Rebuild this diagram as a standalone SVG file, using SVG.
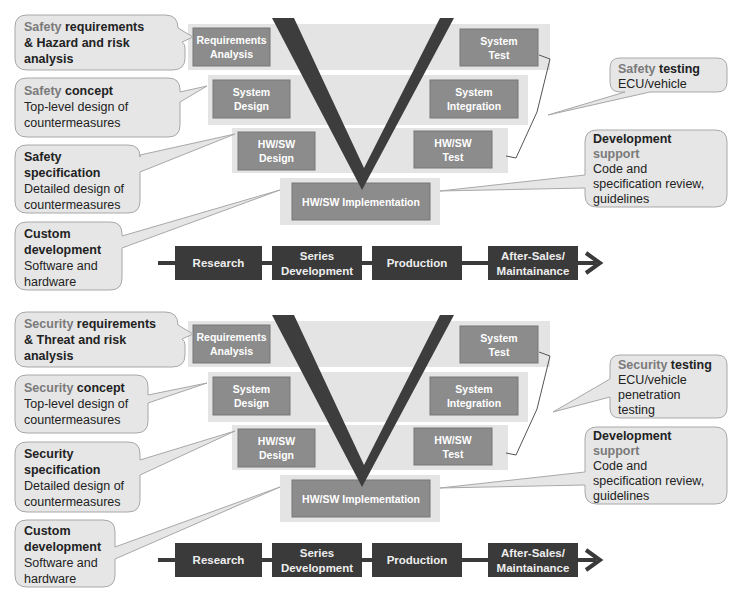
<svg xmlns="http://www.w3.org/2000/svg" width="744" height="600" viewBox="0 0 744 600">
<defs>
<style>
.band{fill:#e4e4e4}
.box{fill:#8c8c8c;stroke:#777;stroke-width:1}
.bt{font-family:"Liberation Sans",Arial,sans-serif;font-size:10.5px;font-weight:bold;fill:#fff;text-anchor:middle}
.call{fill:#e6e6e6;stroke:#a8a8a8;stroke-width:1}
.ct{font-family:"Liberation Sans",Arial,sans-serif;font-size:12.5px;fill:#222}
.b{font-weight:bold}
.g{fill:#7a7a7a;font-weight:bold}
.tl{fill:#3a3a3a}
.tt{font-family:"Liberation Sans",Arial,sans-serif;font-size:11.5px;font-weight:bold;fill:#eee;text-anchor:middle}
.v{fill:#3d3d3d}
.br{fill:none;stroke:#555;stroke-width:1}
</style>
</defs>
<rect width="744" height="600" fill="#fff"/>

<g id="top">
<g id="bands1">
<rect class="band" x="188" y="24" width="362" height="46"/>
<rect class="band" x="208" y="75" width="320" height="50"/>
<rect class="band" x="232" y="128" width="276" height="45"/>
<rect class="band" x="280" y="178" width="160" height="47"/>
</g>
<g id="req1"><rect class="box" x="193" y="28" width="77" height="38"/><text class="bt" x="231.5" y="44">Requirements</text><text class="bt" x="231.5" y="58">Analysis</text></g>
<g id="sysd1"><rect class="box" x="213" y="80" width="77" height="38"/><text class="bt" x="251.5" y="96">System</text><text class="bt" x="251.5" y="110">Design</text></g>
<g id="hwd1"><rect class="box" x="238" y="132" width="77" height="38"/><text class="bt" x="276.5" y="148">HW/SW</text><text class="bt" x="276.5" y="162">Design</text></g>
<g id="impl1"><rect class="box" x="292" y="183" width="138" height="37"/><text class="bt" x="361" y="206">HW/SW Implementation</text></g>
<g id="hwt1"><rect class="box" x="414" y="131" width="78" height="37"/><text class="bt" x="453" y="147">HW/SW</text><text class="bt" x="453" y="161">Test</text></g>
<g id="sysi1"><rect class="box" x="430" y="80" width="88" height="38"/><text class="bt" x="474" y="96">System</text><text class="bt" x="474" y="110">Integration</text></g>
<g id="syst1"><rect class="box" x="460" y="29" width="78" height="37"/><text class="bt" x="499" y="45">System</text><text class="bt" x="499" y="59">Test</text></g>
<polygon class="v" points="272,18 294,18 364,168 440,18 454,18 362,190"/>

<g id="c1a"><path class="call" d="M27,15 H165 Q178,15 178,28 V28 L193,37 L182,42 Q185,44 185,48 V58 Q185,70 172,70 H27 Q15,70 15,58 V27 Q15,15 27,15 Z"/>
<text class="ct" x="24" y="31"><tspan class="g">Safety</tspan><tspan class="b"> requirements</tspan></text>
<text class="ct b" x="24" y="47">&amp; Hazard and risk</text><text class="ct b" x="24" y="63">analysis</text></g>
<g id="c1b"><path class="call" d="M27,78 H168 Q180,78 180,90 V92 L207,86 L180,102 V125 Q180,137 168,137 H27 Q15,137 15,125 V90 Q15,78 27,78 Z"/>
<text class="ct" x="24" y="95"><tspan class="g">Safety</tspan><tspan class="b"> concept</tspan></text>
<text class="ct" x="24" y="111">Top-level design of</text><text class="ct" x="24" y="127">countermeasures</text></g>
<g id="c1c"><path class="call" d="M27,145 H128 Q140,145 140,157 V155 L235,134 L140,172 V201 Q140,213 128,213 H27 Q15,213 15,201 V157 Q15,145 27,145 Z"/>
<text class="ct" x="24" y="161" font-weight="bold" fill="#7a7a7a">Safety</text>
<text class="ct b" x="24" y="177">specification</text>
<text class="ct" x="24" y="193">Detailed design of</text><text class="ct" x="24" y="209">countermeasures</text></g>
<g id="c1d"><path class="call" d="M27,222 H110 Q122,222 122,234 V236 L280,190 L122,248 V278 Q122,290 110,290 H27 Q15,290 15,278 V234 Q15,222 27,222 Z"/>
<text class="ct b" x="24" y="238">Custom</text><text class="ct b" x="24" y="254">development</text>
<text class="ct" x="24" y="270">Software and</text><text class="ct" x="24" y="286">hardware</text></g>
<g id="c1e"><path class="call" d="M620,58 H717 Q727,58 727,68 V82 Q727,92 717,92 H650 L548,115 L625,92 H620 Q610,92 610,82 V68 Q610,58 620,58 Z"/>
<text class="ct" x="618" y="73"><tspan class="g">Safety</tspan><tspan class="b"> testing</tspan></text>
<text class="ct" x="618" y="88">ECU/vehicle</text></g>
<g id="c1f"><path class="call" d="M597,130 H715 Q727,130 727,142 V195 Q727,207 715,207 H597 Q585,207 585,195 V188 L440,191 L585,175 V142 Q585,130 597,130 Z"/>
<text class="ct b" x="593" y="143">Development</text><text class="ct g" x="593" y="158">support</text>
<text class="ct" x="593" y="173">Code and</text><text class="ct" x="593" y="188">specification review,</text><text class="ct" x="593" y="203">guidelines</text></g>
<g id="conn1"><path class="br" d="M539,55 L550,59 L537,112 L516,158 L506,156"/></g>
<g id="time1">
<line x1="158" y1="263" x2="596" y2="263" stroke="#3a3a3a" stroke-width="4"/>
<path d="M586,253 L600,263 L586,273" fill="none" stroke="#3a3a3a" stroke-width="4"/>
<rect class="tl" x="175" y="246" width="87" height="34"/><text class="tt" x="218.5" y="267">Research</text>
<rect class="tl" x="272" y="246" width="90" height="34"/><text class="tt" x="317" y="260">Series</text><text class="tt" x="317" y="275">Development</text>
<rect class="tl" x="372" y="246" width="90" height="34"/><text class="tt" x="417" y="267">Production</text>
<rect class="tl" x="488" y="246" width="90" height="34"/><text class="tt" x="533" y="260">After-Sales/</text><text class="tt" x="533" y="275">Maintainance</text>
</g>
</g>

<g id="bottom" transform="translate(0,297)">
<g id="bands2">
<rect class="band" x="188" y="24" width="362" height="46"/>
<rect class="band" x="208" y="75" width="320" height="50"/>
<rect class="band" x="232" y="128" width="276" height="45"/>
<rect class="band" x="280" y="178" width="160" height="47"/>
</g>
<g id="req2"><rect class="box" x="193" y="28" width="77" height="38"/><text class="bt" x="231.5" y="44">Requirements</text><text class="bt" x="231.5" y="58">Analysis</text></g>
<g id="sysd2"><rect class="box" x="213" y="80" width="77" height="38"/><text class="bt" x="251.5" y="96">System</text><text class="bt" x="251.5" y="110">Design</text></g>
<g id="hwd2"><rect class="box" x="238" y="132" width="77" height="38"/><text class="bt" x="276.5" y="148">HW/SW</text><text class="bt" x="276.5" y="162">Design</text></g>
<g id="impl2"><rect class="box" x="292" y="183" width="138" height="37"/><text class="bt" x="361" y="206">HW/SW Implementation</text></g>
<g id="hwt2"><rect class="box" x="414" y="131" width="78" height="37"/><text class="bt" x="453" y="147">HW/SW</text><text class="bt" x="453" y="161">Test</text></g>
<g id="sysi2"><rect class="box" x="430" y="80" width="88" height="38"/><text class="bt" x="474" y="96">System</text><text class="bt" x="474" y="110">Integration</text></g>
<g id="syst2"><rect class="box" x="460" y="29" width="78" height="37"/><text class="bt" x="499" y="45">System</text><text class="bt" x="499" y="59">Test</text></g>
<polygon class="v" points="272,18 294,18 364,168 440,18 454,18 362,190"/>

<g id="c2a"><path class="call" d="M27,15 H165 Q178,15 178,28 V28 L193,37 L182,42 Q185,44 185,48 V58 Q185,70 172,70 H27 Q15,70 15,58 V27 Q15,15 27,15 Z"/>
<text class="ct" x="24" y="31"><tspan class="g">Security</tspan><tspan class="b"> requirements</tspan></text>
<text class="ct b" x="24" y="47">&amp; Threat and risk</text><text class="ct b" x="24" y="63">analysis</text></g>
<g id="c2b"><path class="call" d="M27,78 H136 Q148,78 148,90 V98 L207,86 L148,106 V124 Q148,136 136,136 H27 Q15,136 15,124 V90 Q15,78 27,78 Z"/>
<text class="ct" x="24" y="95"><tspan class="g">Security</tspan><tspan class="b"> concept</tspan></text>
<text class="ct" x="24" y="111">Top-level design of</text><text class="ct" x="24" y="127">countermeasures</text></g>
<g id="c2c"><path class="call" d="M27,145 H128 Q140,145 140,157 V163 L235,134 L140,178 V203 Q140,215 128,215 H27 Q15,215 15,203 V157 Q15,145 27,145 Z"/>
<text class="ct" x="24" y="161" font-weight="bold" fill="#7a7a7a">Security</text>
<text class="ct b" x="24" y="177">specification</text>
<text class="ct" x="24" y="193">Detailed design of</text><text class="ct" x="24" y="209">countermeasures</text></g>
<g id="c2d"><path class="call" d="M27,223 H103 Q115,223 115,235 V250 L280,190 L115,262 V278 Q115,290 103,290 H27 Q15,290 15,278 V235 Q15,223 27,223 Z"/>
<text class="ct b" x="24" y="238">Custom</text><text class="ct b" x="24" y="254">development</text>
<text class="ct" x="24" y="270">Software and</text><text class="ct" x="24" y="286">hardware</text></g>
<g id="c2e"><path class="call" d="M620,58 H717 Q727,58 727,68 V111 Q727,121 717,121 H620 Q610,121 610,111 V100 L553,115 L610,82 V68 Q610,58 620,58 Z"/>
<text class="ct" x="618" y="72"><tspan class="g">Security</tspan><tspan class="b"> testing</tspan></text>
<text class="ct" x="618" y="87">ECU/vehicle</text><text class="ct" x="618" y="102">penetration</text><text class="ct" x="618" y="117">testing</text></g>
<g id="c2f"><path class="call" d="M597,130 H715 Q727,130 727,142 V195 Q727,207 715,207 H597 Q585,207 585,195 V188 L440,191 L585,175 V142 Q585,130 597,130 Z"/>
<text class="ct b" x="593" y="143">Development</text><text class="ct g" x="593" y="158">support</text>
<text class="ct" x="593" y="173">Code and</text><text class="ct" x="593" y="188">specification review,</text><text class="ct" x="593" y="203">guidelines</text></g>
<g id="conn2"><path class="br" d="M539,55 L550,59 L537,112 L516,158 L506,156"/></g>
<g id="time2">
<line x1="158" y1="263" x2="596" y2="263" stroke="#3a3a3a" stroke-width="4"/>
<path d="M586,253 L600,263 L586,273" fill="none" stroke="#3a3a3a" stroke-width="4"/>
<rect class="tl" x="175" y="246" width="87" height="34"/><text class="tt" x="218.5" y="267">Research</text>
<rect class="tl" x="272" y="246" width="90" height="34"/><text class="tt" x="317" y="260">Series</text><text class="tt" x="317" y="275">Development</text>
<rect class="tl" x="372" y="246" width="90" height="34"/><text class="tt" x="417" y="267">Production</text>
<rect class="tl" x="488" y="246" width="90" height="34"/><text class="tt" x="533" y="260">After-Sales/</text><text class="tt" x="533" y="275">Maintainance</text>
</g>
</g>
</svg>
